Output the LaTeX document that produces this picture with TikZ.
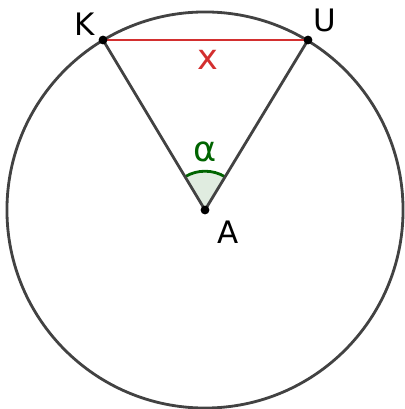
\documentclass[tikz,border=0pt]{standalone}
\usepackage{fontspec}
\setmainfont{DejaVu Sans}
\usetikzlibrary{angles}
\definecolor{ggline}{RGB}{66,66,66}
\definecolor{ggred}{RGB}{211,47,47}
\definecolor{gggreen}{RGB}{0,100,0}
\begin{document}
\begin{tikzpicture}[x=0.025cm, y=0.025cm,
        seg/.style={ggline, line width=2pt},
        chord/.style={ggred, line width=2pt},
        dot/.style={circle, fill=black, inner sep=0pt, minimum size=0.22cm},
        ptlabel/.style={font=\fontsize{22}{22}\selectfont, text=black},
        anglemark/.style={draw=gggreen, line width=2pt, fill=gggreen!12, angle radius=0.97cm}
    ]
        \useasboundingbox (0,0) rectangle (405,409);

        % Points on the circle and centre
        \coordinate (A) at (205,199);
        \coordinate (K) at (103,369);
        \coordinate (U) at (308,369);

        % Circle
        \draw[seg] (A) circle[radius=4.95cm];

        % Angle at A
        \pic[anglemark] {angle=U--A--K};

        % Sides and chord
        \draw[seg] (A) -- (K);
        \draw[seg] (A) -- (U);
        \draw[chord] (K) -- (U);

        % Dots
        \node[dot] (dA) at (A) {};
        \node[dot] (dK) at (K) {};
        \node[dot] (dU) at (U) {};

        % Labels
        \node[ptlabel] (lK) at (85,385) {K};
        \node[ptlabel] (lU) at (325,389) {U};
        \node[ptlabel] (lA) at (228,177) {A};
        \node[font=\fontsize{25}{25}\selectfont, text=ggred] (lx) at (208,349) {x};
        \node[font=\fontsize{25}{25}\selectfont, text=gggreen] (lalpha) at (205,257) {α};
    \end{tikzpicture}
\end{document}
